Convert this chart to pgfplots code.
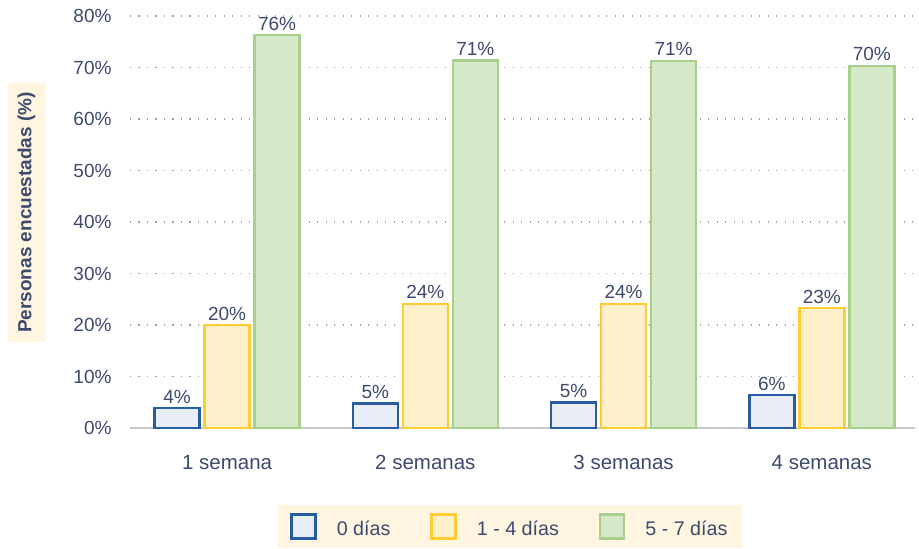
\documentclass[border=0pt]{standalone}
\usepackage{fontspec}
\setmainfont{Liberation Sans}
\usepackage{pgfplots}
\pgfplotsset{compat=1.18}
\definecolor{textc}{RGB}{60,74,110}
\definecolor{bluel}{RGB}{40,92,160}
\definecolor{bluef}{RGB}{232,237,248}
\definecolor{yell}{RGB}{255,204,51}
\definecolor{yelf}{RGB}{255,240,204}
\definecolor{grnl}{RGB}{168,208,141}
\definecolor{grnf}{RGB}{213,232,200}
\definecolor{bgc}{RGB}{255,245,224}
\definecolor{gridc}{RGB}{160,160,160}
\definecolor{basec}{RGB}{200,200,200}
\begin{document}
\fontsize{19}{23}\selectfont
\begin{tikzpicture}
\begin{axis}[
  scale only axis, width=785pt, height=412pt,
  ymin=0, ymax=80, xmin=-0.49, xmax=3.47,
  ybar=5pt, bar width=45pt,
  clip=false,
  axis line style={draw=none},
  major tick length=0pt,
  /pgf/number format/assume math mode=true,
  xtick={0,1,2,3},
  xticklabels={1 semana,2 semanas,3 semanas,4 semanas},
  xticklabel style={text=textc, yshift=-21pt, font=\fontsize{20.5}{24}\selectfont},
  ytick={10,20,...,80},
  yticklabel={\pgfmathprintnumber{\tick}\%},
  yticklabel style={text=textc, xshift=-12pt},
  ymajorgrids,
  grid style={gridc, line width=1.3pt, dash pattern=on 1.3pt off 7.2pt},
  extra y ticks={0},
  extra y tick labels={0\%},
  extra y tick style={grid style={basec, solid, line width=1.8pt}},
  ylabel={Personas encuestadas (\%)},
  ylabel style={font=\bfseries, fill=bgc, text=textc, inner xsep=9pt, inner ysep=10pt, at={(axis description cs:-0.132,0.523)}, anchor=center},
  nodes near coords={\pgfmathprintnumber[fixed,precision=0]{\pgfplotspointmeta}\%},
  nodes near coords style={text=textc, inner sep=3.5pt},
  legend style={at={(axis description cs:0.484,-0.187)}, anchor=north, draw=none, fill=bgc,
    /tikz/every even column/.append style={column sep=38pt},
    /tikz/every odd column/.append style={column sep=18pt},
    inner xsep=12pt, inner ysep=8pt, text=textc, nodes={inner sep=2pt},
    font=\fontsize{19.7}{23}\selectfont},
  legend columns=3,
  every axis plot post/.append style={legend image code/.code={\draw[##1,line width=2.4pt] (0pt,-9pt) rectangle (24pt,15pt);}},
]
\addplot[draw=bluel, fill=bluef, line width=2.6pt] coordinates {(0,3.9) (1,4.7) (2,4.9) (3,6.4)};
\addplot[draw=yell, fill=yelf, line width=2.6pt] coordinates {(0,20.0) (1,24.1) (2,24.1) (3,23.3)};
\addplot[draw=grnl, fill=grnf, line width=2.6pt] coordinates {(0,76.3) (1,71.4) (2,71.3) (3,70.3)};
\legend{0 días,1 - 4 días,5 - 7 días}
\end{axis}
\pgfresetboundingbox
\path[use as bounding box] ([shift={(-130pt,-120pt)}]current axis.south west) rectangle ([shift={(4pt,16pt)}]current axis.north east);
\end{tikzpicture}
\end{document}
